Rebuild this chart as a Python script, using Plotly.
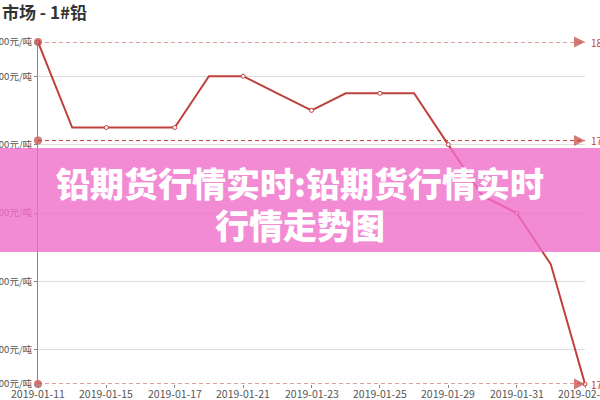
import plotly.graph_objects as go

dates = ["2019-01-11", "2019-01-14", "2019-01-15", "2019-01-16", "2019-01-17",
         "2019-01-18", "2019-01-21", "2019-01-22", "2019-01-23", "2019-01-24",
         "2019-01-25", "2019-01-28", "2019-01-29", "2019-01-30", "2019-01-31",
         "2019-02-01", "2019-02-04"]
prices = [18100, 17850, 17850, 17850, 17850, 18000, 18000, 17950, 17900, 17950,
          17950, 17950, 17800, 17650, 17600, 17450, 17100]
ytick_vals = [17100, 17200, 17400, 17600, 17800, 18000, 18100]
ytick_text = [f"{v}元/吨" for v in ytick_vals]
title_text = "市场 - 1#铅"
banner_lines = ["铅期货行情实时:铅期货行情实时", "行情走势图"]

RED = "#c0403c"
FONT = "Noto Sans CJK SC"
W, H = 600, 400
L, R, T, B = 38, 15, 42, 16
pw, ph = W - L - R, H - T - B

def px_x(x):
    return (x - L) / pw

def px_y(y):
    return (H - B - y) / ph

fig = go.Figure()

# main series
fig.add_trace(go.Scatter(
    x=dates, y=prices, mode="lines",
    line=dict(color=RED, width=2), cliponaxis=False,
    showlegend=False, hoverinfo="skip"))
fig.add_trace(go.Scatter(
    x=dates[::2], y=prices[::2], mode="markers",
    marker=dict(symbol="circle", size=4, color="white",
                line=dict(color=RED, width=1)),
    cliponaxis=False, showlegend=False, hoverinfo="skip"))

# mark lines: max, average, min
vmax = max(prices)
vmin = min(prices)
vavg = sum(prices) / len(prices)
for v in (vmax, vavg, vmin):
    fig.add_trace(go.Scatter(
        x=[dates[0], dates[-1]], y=[v, v], mode="lines+markers",
        line=dict(color=RED, width=1, dash="4px,3px"),
        marker=dict(symbol=["circle", "arrow-right"], size=[8, 11], color=RED,
                    line=dict(width=0)),
        cliponaxis=False, hoverinfo="skip", showlegend=False))
    lbl = f"{v:.2f}".rstrip("0").rstrip(".")
    fig.add_annotation(x=1, xref="paper", y=v, yref="y", text=lbl,
                       showarrow=False, xanchor="left", xshift=4,
                       font=dict(family=FONT, size=10, color=RED))

# x tick labels
for d in dates[::2]:
    fig.add_annotation(x=d, xref="x", y=0, yref="paper", text=d,
                       showarrow=False, xanchor="center", yanchor="top",
                       yshift=0, font=dict(family=FONT, size=10.5, color="#555"))

# banner overlay
fig.add_shape(type="rect", xref="paper", yref="paper",
              x0=px_x(-5), x1=px_x(W + 5), y0=px_y(252), y1=px_y(148),
              fillcolor="rgba(240,110,201,0.8)", line=dict(width=0),
              layer="above")
for txt, yc in zip(banner_lines, (182, 224)):
    fig.add_annotation(x=px_x(300), xref="paper", y=px_y(yc), yref="paper",
                       text=txt, showarrow=False,
                       xanchor="center", yanchor="middle",
                       font=dict(family=FONT, size=34, color="white", weight=900))

# title (left part cut off in the reference)
fig.add_annotation(x=px_x(0), xref="paper", y=px_y(11), yref="paper",
                   text=f"<b>{title_text}</b>", showarrow=False,
                   xanchor="left", yanchor="middle",
                   font=dict(family=FONT, size=17, color="#333"))

fig.update_layout(
    width=W, height=H,
    margin=dict(l=L, r=R, t=T, b=B, autoexpand=False),
    paper_bgcolor="white", plot_bgcolor="white",
    xaxis=dict(type="category", categoryorder="array", categoryarray=dates,
               range=[0, len(dates) - 1], automargin=False,
               tickmode="array", tickvals=dates[::2], showticklabels=False,
               showgrid=False, showline=False, zeroline=False,
               ticks="outside", ticklen=3, tickcolor="#888"),
    yaxis=dict(range=[vmin, vmax], tickmode="array", tickvals=ytick_vals,
               ticktext=ytick_text, showgrid=True, gridcolor="#dcdcdc",
               gridwidth=1, zeroline=False, showline=True, linecolor="#888",
               linewidth=1, ticks="outside", ticklen=3, tickcolor="#888",
               automargin=False,
               tickfont=dict(family=FONT, size=9.5, color="#555")),
)

fig.write_html("out.html", config={"displayModeBar": False},
               post_script="document.body.style.margin='0';"
                           "document.body.style.overflow='hidden';")
